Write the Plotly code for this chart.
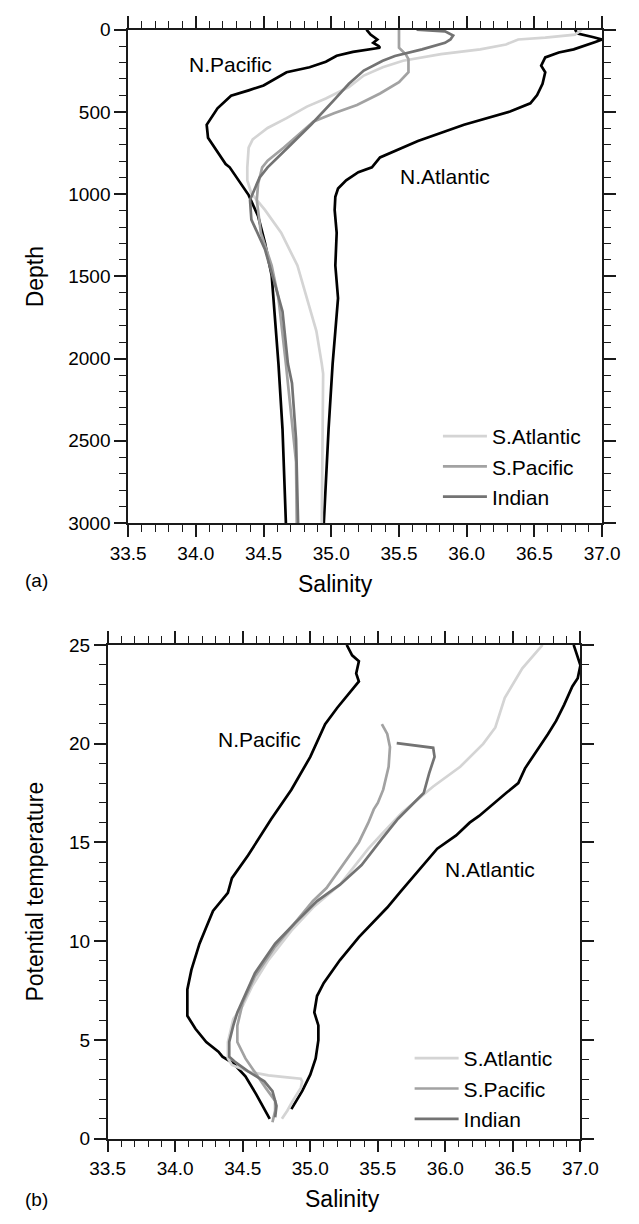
import plotly.graph_objects as go

W, H = 639, 1224

# ---------------- Panel (a): salinity vs depth ----------------
npac_a_depth = [0, 30, 60, 80, 100, 110, 135, 159, 195, 229, 259, 339, 369, 402, 478, 578, 657, 817, 837, 1006, 1135, 1295, 1494, 1692, 2032, 2430, 3000]
npac_a_sal = [35.26, 35.29, 35.34, 35.31, 35.35, 35.36, 35.16, 35.04, 34.96, 34.84, 34.67, 34.50, 34.39, 34.26, 34.16, 34.08, 34.09, 34.22, 34.25, 34.39, 34.46, 34.51, 34.56, 34.58, 34.61, 34.64, 34.665]

natl_a_depth = [0, 24, 45, 60, 75, 100, 120, 139, 169, 219, 259, 329, 398, 448, 498, 578, 677, 777, 837, 867, 916, 966, 1016, 1096, 1235, 1434, 1633, 1833, 2032, 2430, 3000]
natl_a_sal = [36.80, 36.82, 36.93, 37.0, 36.95, 36.86, 36.79, 36.68, 36.58, 36.55, 36.58, 36.56, 36.52, 36.47, 36.32, 35.98, 35.64, 35.36, 35.30, 35.20, 35.11, 35.05, 35.03, 35.025, 35.04, 35.03, 35.05, 35.03, 35.01, 34.98, 34.945]

satl_a_depth = [0, 30, 48, 60, 90, 120, 149, 189, 229, 279, 349, 418, 468, 538, 598, 667, 717, 837, 916, 996, 1096, 1235, 1434, 1633, 1833, 2032, 2092, 3000]
satl_a_sal = [36.85, 36.80, 36.58, 36.38, 36.29, 36.10, 35.81, 35.53, 35.38, 35.24, 35.13, 34.96, 34.82, 34.67, 34.53, 34.42, 34.39, 34.38, 34.38, 34.41, 34.51, 34.63, 34.75, 34.82, 34.89, 34.93, 34.94, 34.93]

spac_a_depth = [0, 110, 150, 179, 259, 319, 388, 458, 508, 558, 637, 717, 797, 837, 936, 1036, 1235, 1434, 1633, 1833, 2032, 2231, 2629, 3000]
spac_a_sal = [35.50, 35.50, 35.55, 35.57, 35.57, 35.50, 35.36, 35.19, 35.02, 34.87, 34.76, 34.65, 34.53, 34.49, 34.46, 34.45, 34.48, 34.56, 34.61, 34.64, 34.665, 34.69, 34.74, 34.745]

ind_a_depth = [0, 10, 36, 60, 80, 120, 160, 189, 249, 329, 428, 578, 717, 837, 900, 1035, 1155, 1335, 1594, 1713, 2032, 2150, 2490, 3000]
ind_a_sal = [35.63, 35.84, 35.90, 35.88, 35.84, 35.67, 35.47, 35.38, 35.24, 35.13, 35.02, 34.85, 34.68, 34.53, 34.47, 34.40, 34.41, 34.51, 34.60, 34.64, 34.68, 34.71, 34.74, 34.755]

# ---------------- Panel (b): salinity vs potential temperature ----------------
npac_b_sal = [35.27, 35.31, 35.36, 35.34, 35.36, 35.28, 35.20, 35.11, 35.00, 34.86, 34.71, 34.54, 34.42, 34.39, 34.28, 34.23, 34.18, 34.12, 34.09, 34.09, 34.15, 34.23, 34.32, 34.35, 34.43, 34.52, 34.60, 34.70]
npac_b_temp = [25.0, 24.47, 24.17, 23.56, 23.15, 22.48, 21.82, 20.99, 19.33, 17.67, 16.17, 14.35, 13.19, 12.44, 11.53, 10.70, 9.87, 8.54, 7.55, 6.22, 5.56, 4.89, 4.40, 4.15, 3.81, 3.15, 2.24, 1.0]

natl_b_sal = [36.95, 37.0, 36.98, 36.94, 36.88, 36.82, 36.76, 36.68, 36.59, 36.54, 36.45, 36.25, 36.18, 36.08, 35.94, 35.67, 35.57, 35.36, 35.22, 35.10, 35.05, 35.03, 35.06, 35.06, 35.04, 35.00, 34.94, 34.86]
natl_b_temp = [25.0, 23.97, 23.31, 22.9, 21.98, 21.15, 20.49, 19.66, 18.75, 18.0, 17.5, 16.34, 16.0, 15.35, 14.68, 12.52, 11.70, 10.20, 9.04, 7.88, 7.22, 6.39, 5.73, 4.98, 4.06, 3.24, 2.40, 1.49]

satl_b_sal = [36.72, 36.57, 36.44, 36.37, 36.28, 36.11, 35.91, 35.68, 35.52, 35.43, 35.22, 35.02, 34.86, 34.69, 34.57, 34.50, 34.43, 34.39, 34.39, 34.42, 34.54, 34.69, 34.83, 34.93, 34.94, 34.93, 34.87, 34.83, 34.79]
satl_b_temp = [25.0, 23.81, 22.32, 20.82, 19.99, 18.83, 17.83, 16.51, 15.35, 14.68, 12.86, 11.70, 10.53, 9.04, 7.72, 6.72, 6.05, 4.89, 4.06, 3.73, 3.40, 3.20, 3.10, 3.03, 2.90, 2.57, 1.91, 1.41, 1.0]

spac_b_sal = [35.53, 35.57, 35.59, 35.58, 35.54, 35.50, 35.47, 35.43, 35.36, 35.26, 35.12, 35.02, 34.88, 34.74, 34.59, 34.50, 34.46, 34.46, 34.52, 34.60, 34.67, 34.74, 34.74, 34.72]
spac_b_temp = [20.99, 20.49, 19.83, 18.83, 17.67, 17.0, 16.67, 16.0, 15.01, 14.02, 12.69, 12.03, 10.87, 9.71, 8.21, 6.88, 5.72, 4.89, 4.06, 3.24, 2.57, 1.91, 1.41, 0.83]

ind_b_sal = [35.64, 35.91, 35.92, 35.88, 35.84, 35.74, 35.65, 35.53, 35.38, 35.22, 35.05, 34.88, 34.74, 34.59, 34.50, 34.46, 34.43, 34.40, 34.40, 34.44, 34.54, 34.66, 34.72, 34.75, 34.74]
ind_b_temp = [20.03, 19.79, 19.33, 18.5, 17.5, 16.84, 16.2, 15.18, 13.85, 12.86, 12.03, 10.87, 9.87, 8.38, 7.05, 6.39, 5.72, 4.89, 4.15, 3.90, 3.40, 2.90, 2.40, 1.66, 1.08]

x_range = [33.5, 37.0]
depth_range = [3000, 0]
temp_range = [0, 25]

C_BLACK = "#000000"
C_SATL = "#d4d4d4"
C_SPAC = "#a2a2a2"
C_IND = "#737373"
FONT = "Liberation Sans, Arial, Helvetica, sans-serif"

def px(x):
    return x / W

def py(y):
    return 1 - y / H

fig = go.Figure()

def add(xs, ys, color, name, xa, ya, legend, show, width=2.7):
    fig.add_trace(go.Scatter(x=xs, y=ys, mode="lines", name=name,
                             line=dict(color=color, width=width),
                             xaxis=xa, yaxis=ya, legend=legend,
                             showlegend=show, hoverinfo="skip"))

add(npac_a_sal, npac_a_depth, C_BLACK, "N.Pacific", "x", "y", "legend", False)
add(natl_a_sal, natl_a_depth, C_BLACK, "N.Atlantic", "x", "y", "legend", False)
add(satl_a_sal, satl_a_depth, C_SATL, "S.Atlantic", "x", "y", "legend", True)
add(spac_a_sal, spac_a_depth, C_SPAC, "S.Pacific", "x", "y", "legend", True)
add(ind_a_sal, ind_a_depth, C_IND, "Indian", "x", "y", "legend", True)

add(npac_b_sal, npac_b_temp, C_BLACK, "N.Pacific", "x2", "y2", "legend2", False)
add(natl_b_sal, natl_b_temp, C_BLACK, "N.Atlantic", "x2", "y2", "legend2", False)
add(satl_b_sal, satl_b_temp, C_SATL, "S.Atlantic", "x2", "y2", "legend2", True)
add(spac_b_sal, spac_b_temp, C_SPAC, "S.Pacific", "x2", "y2", "legend2", True)
add(ind_b_sal, ind_b_temp, C_IND, "Indian", "x2", "y2", "legend2", True)

axis_common = dict(showline=True, linecolor="#1a1a1a", linewidth=1.6,
                   ticks="outside", ticklen=12, tickwidth=1.6, tickcolor="#1a1a1a",
                   mirror="ticks", showgrid=False, zeroline=False,
                   tickfont=dict(family=FONT, size=19, color="#000"))
minor_common = dict(ticklen=7, tickwidth=1.3, tickcolor="#1a1a1a", ticks="outside")

legend_common = dict(xanchor="left", yanchor="top", bgcolor="rgba(0,0,0,0)", borderwidth=0,
                     font=dict(family=FONT, size=21, color="#000"),
                     tracegroupgap=0, itemwidth=44)

fig.update_layout(
    width=W, height=H,
    margin=dict(l=0, r=0, t=0, b=0),
    paper_bgcolor="white", plot_bgcolor="white",
    font=dict(family=FONT, color="#000"),
    xaxis=dict(domain=[px(116.7), px(619)], range=x_range, anchor="y",
               dtick=0.5, tick0=33.5, tickformat=".1f",
               minor=dict(dtick=0.1, **minor_common), **axis_common),
    yaxis=dict(domain=[py(522), py(20)], range=depth_range, anchor="x",
               dtick=500, tick0=0,
               minor=dict(dtick=100, **minor_common), **axis_common),
    xaxis2=dict(domain=[px(95), px(596)], range=x_range, anchor="y2",
                dtick=0.5, tick0=33.5, tickformat=".1f",
                minor=dict(dtick=0.1, **minor_common), **axis_common),
    yaxis2=dict(domain=[py(1148.3), py(646)], range=temp_range, anchor="x2",
                dtick=5, tick0=0,
                minor=dict(dtick=1, **minor_common), **axis_common),
    legend=dict(x=px(445), y=py(413), **legend_common),
    legend2=dict(x=px(415), y=py(1046), **legend_common),
)

def ann(text, x, y, size=21, angle=0, xanchor="center"):
    fig.add_annotation(text=text, x=px(x), y=py(y), xref="paper", yref="paper",
                       showarrow=False, textangle=angle, xanchor=xanchor, yanchor="middle",
                       font=dict(family=FONT, size=size, color="#000"))

ann("N.Pacific", 225, 55)
ann("N.Atlantic", 453, 169)
ann("Salinity", 336, 584, size=23)
ann("Depth", 18, 271, size=23, angle=-90)
ann("(a)", 5, 580, size=19, xanchor="left")

ann("N.Pacific", 256, 742)
ann("N.Atlantic", 500, 875)
ann("Salinity", 344, 1210, size=23)
ann("Potential temperature", 18, 897, size=23, angle=-90)
ann("(b)", 5, 1210, size=19, xanchor="left")

fig.write_html("out.html")
